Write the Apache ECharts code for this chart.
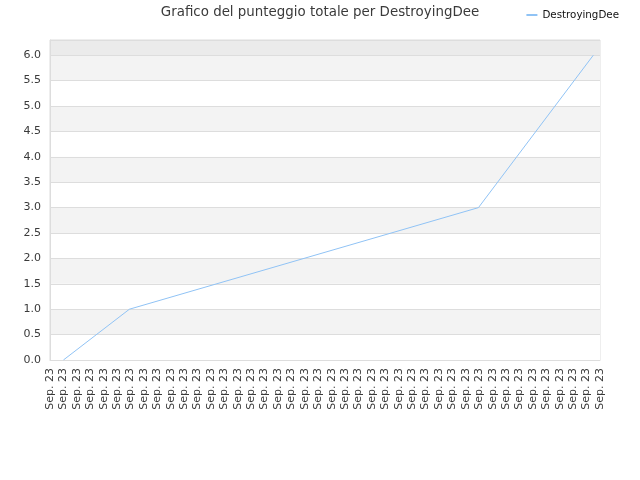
<!DOCTYPE html>
<html>
<head>
<meta charset="utf-8">
<script src="https://cdn.jsdelivr.net/npm/echarts@6/dist/echarts.min.js"></script>
<style>
  html, body { margin: 0; padding: 0; background: #fff; }
  #main { width: 640px; height: 480px; }
</style>
</head>
<body>
<div id="main"></div>
<script>
// tick labels on the bottom axis (42 of them, all the same day)
const dayLabels = [
  'Sep. 23', 'Sep. 23', 'Sep. 23', 'Sep. 23', 'Sep. 23', 'Sep. 23', 'Sep. 23',
  'Sep. 23', 'Sep. 23', 'Sep. 23', 'Sep. 23', 'Sep. 23', 'Sep. 23', 'Sep. 23',
  'Sep. 23', 'Sep. 23', 'Sep. 23', 'Sep. 23', 'Sep. 23', 'Sep. 23', 'Sep. 23',
  'Sep. 23', 'Sep. 23', 'Sep. 23', 'Sep. 23', 'Sep. 23', 'Sep. 23', 'Sep. 23',
  'Sep. 23', 'Sep. 23', 'Sep. 23', 'Sep. 23', 'Sep. 23', 'Sep. 23', 'Sep. 23',
  'Sep. 23', 'Sep. 23', 'Sep. 23', 'Sep. 23', 'Sep. 23', 'Sep. 23', 'Sep. 23'
]
// where the score changes, in tick units along the axis
const pointPos = [1, 5.92, 31.94, 40.5]
// total score at those points
const scores = [0, 1, 3, 6]

const playerName = 'DestroyingDee'
const font = 'DejaVu Sans'

// white / light grey bands, darker strip above 6.0
const bandColors = [
  '#ffffff', '#f3f3f3', '#ffffff', '#f3f3f3', '#ffffff', '#f3f3f3',
  '#ffffff', '#f3f3f3', '#ffffff', '#f3f3f3', '#ffffff', '#f3f3f3', '#ebebeb'
]

const seriesData = pointPos.map((p, i) => [p, scores[i]])

const myChart = echarts.init(document.getElementById('main'))
myChart.setOption({
  animation: false,
  textStyle: { fontFamily: font },
  title: {
    text: 'Grafico del punteggio totale per ' + playerName,
    left: 'center',
    top: 1,
    textStyle: { fontFamily: font, fontSize: 13.4, fontWeight: 'normal', color: '#3a3a3a' }
  },
  legend: {
    right: 16,
    top: 5,
    itemWidth: 11,
    itemHeight: 2,
    itemGap: 8,
    textStyle: { fontFamily: font, fontSize: 10.3, color: '#111' },
    data: [{ name: playerName, icon: 'rect' }]
  },
  grid: {
    left: 50,
    right: 40,
    top: 40,
    bottom: 120,
    show: true,
    borderColor: '#dddddd',
    borderWidth: 1,
    backgroundColor: 'transparent'
  },
  xAxis: [
    {
      type: 'category',
      data: dayLabels,
      boundaryGap: false,
      axisLine: { lineStyle: { color: '#dddddd' } },
      axisTick: { show: false },
      axisLabel: {
        interval: 0,
        rotate: 90,
        margin: 8,
        fontFamily: font,
        fontSize: 11,
        color: '#3a3a3a'
      },
      splitLine: { show: false }
    },
    {
      type: 'value',
      min: 0,
      max: dayLabels.length - 1,
      show: false
    }
  ],
  yAxis: {
    type: 'value',
    min: 0,
    max: 6.3,
    interval: 0.5,
    axisLine: { show: true, lineStyle: { color: '#dddddd' } },
    axisTick: { show: false },
    axisLabel: {
      showMaxLabel: false,
      formatter: v => v.toFixed(1),
      fontFamily: font,
      fontSize: 11,
      color: '#3a3a3a',
      margin: 9
    },
    splitLine: { lineStyle: { color: '#dddddd' } },
    splitArea: { show: true, areaStyle: { color: bandColors } }
  },
  series: [
    {
      name: playerName,
      type: 'line',
      xAxisIndex: 1,
      data: seriesData,
      symbol: 'none',
      lineStyle: { color: '#90c3f5', width: 1 },
      itemStyle: { color: '#90c3f5' }
    }
  ]
})
</script>
</body>
</html>
